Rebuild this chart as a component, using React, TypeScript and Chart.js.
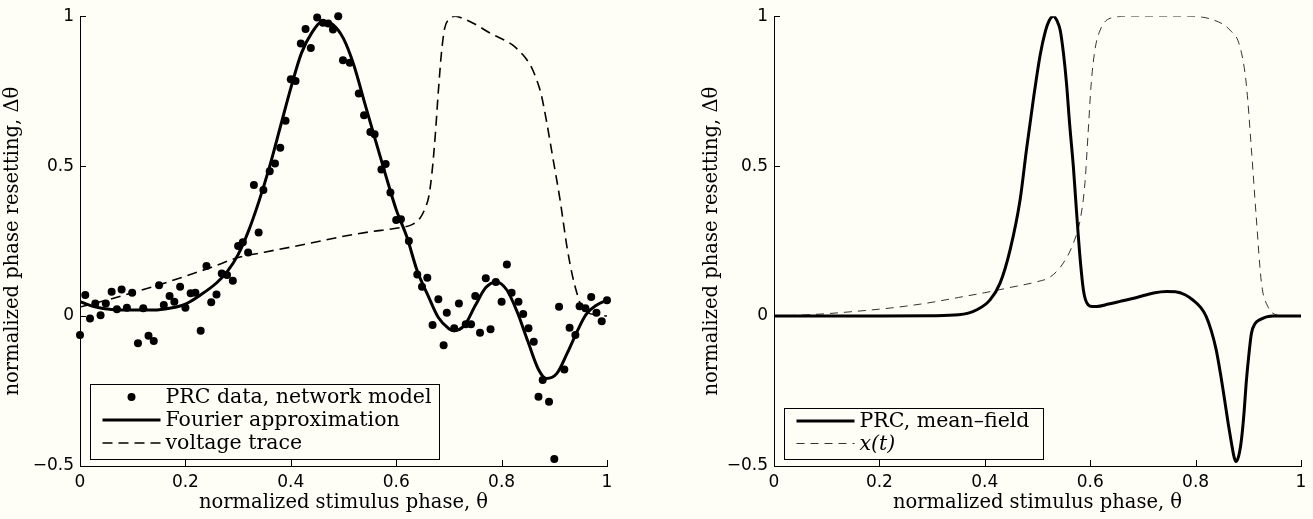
import React, { useEffect, useRef } from "react";
import { Chart, registerables } from "chart.js";

Chart.register(...registerables);

const BG = "rgb(254,254,247)";

// ---------- Left panel: network model ----------
const prcTheta = [
  0.0, 0.01, 0.019, 0.029, 0.039, 0.049, 0.06, 0.07, 0.079, 0.089, 0.099, 0.11, 0.12, 0.13, 0.14, 0.15,
  0.159, 0.17, 0.179, 0.19, 0.2, 0.21, 0.219, 0.229, 0.24, 0.249, 0.259, 0.269, 0.279, 0.29, 0.3, 0.309,
  0.319, 0.33, 0.339, 0.348, 0.36, 0.37, 0.38, 0.39, 0.4, 0.409, 0.419, 0.428, 0.438, 0.45, 0.461, 0.471,
  0.48, 0.49, 0.499, 0.512, 0.529, 0.539, 0.551, 0.559, 0.572, 0.58, 0.589, 0.6, 0.609, 0.624, 0.64, 0.649,
  0.659, 0.669, 0.68, 0.69, 0.696, 0.71, 0.719, 0.732, 0.742, 0.75, 0.759, 0.77, 0.779, 0.789, 0.8, 0.81,
  0.819, 0.832, 0.841, 0.851, 0.861, 0.87, 0.878, 0.89, 0.9, 0.909, 0.919, 0.929, 0.94, 0.948, 0.959, 0.97,
  0.98, 0.99, 1.0,
];
const prcValues = [
  -0.063, 0.07, -0.008, 0.042, 0.003, 0.042, 0.081, 0.023, 0.089, 0.028, 0.078, -0.091, 0.026, -0.066, -0.083, 0.103,
  0.037, 0.067, 0.048, 0.098, 0.028, 0.076, 0.078, -0.049, 0.167, 0.046, 0.072, 0.142, 0.137, 0.118, 0.234, 0.246,
  0.212, 0.437, 0.279, 0.42, 0.483, 0.509, 0.561, 0.651, 0.79, 0.784, 0.909, 0.957, 0.894, 0.996, 0.978, 0.976,
  0.956, 1.0, 0.853, 0.845, 0.742, 0.67, 0.614, 0.606, 0.489, 0.507, 0.412, 0.32, 0.323, 0.25, 0.139, 0.098,
  0.128, -0.03, 0.056, -0.097, 0.011, -0.041, 0.042, -0.027, -0.027, 0.067, -0.056, 0.126, -0.044, 0.114, 0.048, 0.172,
  0.078, 0.048, 0.007, -0.041, -0.086, -0.269, -0.213, -0.286, -0.477, 0.031, -0.178, -0.039, -0.063, 0.033, 0.026, 0.064,
  0.011, -0.017, 0.053,
];

const fourierTheta = [
  0.0, 0.03, 0.06, 0.1, 0.14, 0.17, 0.2, 0.23, 0.26, 0.28, 0.3, 0.32, 0.34, 0.36, 0.38, 0.4, 0.42, 0.44,
  0.46, 0.48, 0.5, 0.52, 0.54, 0.56, 0.58, 0.6, 0.62, 0.64, 0.66, 0.68, 0.7, 0.71, 0.73, 0.75, 0.77, 0.79,
  0.81, 0.83, 0.85, 0.87, 0.885, 0.905, 0.925, 0.945, 0.96, 0.98, 1.0,
];
const fourierValues = [
  0.048, 0.03, 0.022, 0.02, 0.02, 0.026, 0.04, 0.072, 0.112, 0.15, 0.205, 0.285, 0.385, 0.5, 0.63, 0.76, 0.876, 0.945,
  0.982, 0.972, 0.925, 0.835, 0.712, 0.59, 0.47, 0.355, 0.265, 0.15, 0.07, -0.005, -0.042, -0.049, -0.03, 0.035, 0.095, 0.114,
  0.087, 0.012, -0.085, -0.178, -0.208, -0.191, -0.122, -0.045, 0.005, 0.036, 0.053,
];

const voltageTheta = [
  0.0, 0.05, 0.1, 0.15, 0.2, 0.25, 0.3, 0.35, 0.4, 0.45, 0.5, 0.55, 0.6, 0.63, 0.645, 0.655, 0.662, 0.668,
  0.674, 0.68, 0.686, 0.692, 0.7, 0.712, 0.73, 0.75, 0.78, 0.8, 0.82, 0.84, 0.855, 0.865, 0.875, 0.886, 0.898,
  0.911, 0.924, 0.935, 0.943, 0.95, 0.96, 0.98, 1.0,
];
const voltageValues = [
  0.03, 0.053, 0.078, 0.104, 0.133, 0.163, 0.195, 0.213, 0.23, 0.248, 0.266, 0.281, 0.293, 0.305, 0.326, 0.36, 0.4, 0.48,
  0.6, 0.75, 0.88, 0.96, 0.99, 1.0, 0.99, 0.973, 0.942, 0.925, 0.905, 0.872, 0.835, 0.795, 0.74, 0.642, 0.52,
  0.387, 0.231, 0.13, 0.076, 0.037, 0.015, 0.004, 0.0,
];

// ---------- Right panel: mean-field ----------
const meanFieldTheta = [
  0.0, 0.1, 0.2, 0.3, 0.35, 0.385, 0.41, 0.429, 0.448, 0.467, 0.479, 0.492, 0.505, 0.515, 0.522, 0.53, 0.537,
  0.543, 0.549, 0.555, 0.561, 0.568, 0.572, 0.577, 0.582, 0.587, 0.591, 0.596, 0.604, 0.612, 0.635, 0.657, 0.69,
  0.72, 0.745, 0.762, 0.78, 0.796, 0.81, 0.82, 0.83, 0.839, 0.847, 0.855, 0.862, 0.868, 0.873, 0.877, 0.882, 0.887,
  0.892, 0.896, 0.901, 0.906, 0.913, 0.922, 0.947, 1.0,
];
const meanFieldValues = [
  0.0, 0.0, 0.0, 0.001, 0.004, 0.021, 0.054, 0.11, 0.221, 0.388, 0.554, 0.721, 0.87, 0.95, 0.985, 1.0, 0.985,
  0.954, 0.88, 0.777, 0.64, 0.499, 0.4, 0.277, 0.17, 0.088, 0.055, 0.038, 0.032, 0.032, 0.04, 0.049, 0.063,
  0.077, 0.082, 0.081, 0.071, 0.052, 0.028, -0.001, -0.05, -0.112, -0.19, -0.279, -0.36, -0.423, -0.47, -0.485, -0.465, -0.412,
  -0.32, -0.223, -0.13, -0.057, -0.025, -0.012, 0.0, 0.0,
];

const xtTheta = [
  0.0, 0.05, 0.1, 0.15, 0.2, 0.25, 0.3, 0.35, 0.4, 0.45, 0.5, 0.524, 0.549, 0.568, 0.581, 0.59, 0.596, 0.602,
  0.609, 0.619, 0.638, 0.676, 0.783, 0.833, 0.865, 0.884, 0.896, 0.906, 0.915, 0.925, 0.937, 0.953, 0.97, 1.0,
];
const xtValues = [
  0.0, 0.003, 0.008, 0.015, 0.023, 0.033, 0.046, 0.062, 0.078, 0.096, 0.115, 0.13, 0.177, 0.243, 0.321, 0.443, 0.61, 0.777,
  0.888, 0.954, 0.993, 1.0, 1.0, 0.988, 0.954, 0.899, 0.777, 0.554, 0.332, 0.11, 0.032, 0.004, 0.0, 0.0,
];

// ---------- Axis text ----------
const xTickLabels = ["0", "0.2", "0.4", "0.6", "0.8", "1"];
const yTickLabels = ["\u22120.5", "0", "0.5", "1"];
const xAxisTitle = "normalized stimulus phase, \u03b8";
const yAxisTitle = "normalized phase resetting, \u0394\u03b8";

const SERIF = "'DejaVu Serif', serif";
const SANS = "'DejaVu Sans', sans-serif";

const toPoints = (xs: number[], ys: number[]) => xs.map((x, i) => ({ x, y: ys[i] }));

const inwardTicks = {
  id: "inwardTicks",
  afterDraw(chart: any) {
    const { ctx, chartArea, scales } = chart;
    const L = 6;
    ctx.save();
    ctx.strokeStyle = "#000";
    ctx.lineWidth = 1;
    scales.x.ticks.forEach((t: any) => {
      const px = Math.round(scales.x.getPixelForValue(t.value)) + 0.5;
      ctx.beginPath();
      ctx.moveTo(px, chartArea.bottom);
      ctx.lineTo(px, chartArea.bottom - L);
      ctx.stroke();
    });
    scales.y.ticks.forEach((t: any) => {
      const py = Math.round(scales.y.getPixelForValue(t.value)) + 0.5;
      ctx.beginPath();
      ctx.moveTo(chartArea.left, py);
      ctx.lineTo(chartArea.left + L, py);
      ctx.stroke();
    });
    ctx.restore();
  },
};

const boxLegend = {
  id: "boxLegend",
  afterDraw(chart: any, _args: any, opts: any) {
    if (!opts || !opts.show) return;
    const { ctx, chartArea } = chart;
    const items = chart.data.datasets;
    const n = items.length;
    const fontFor = (ds: any) => `${ds.legendItalic ? "italic " : ""}${opts.fontSize}px ${SERIF}`;
    ctx.save();
    let maxW = 0;
    items.forEach((ds: any) => {
      ctx.font = fontFor(ds);
      maxW = Math.max(maxW, ctx.measureText(ds.label).width);
    });
    const h = Math.round(opts.topPad + opts.rowHeight * (n - 1) + opts.bottomPad);
    const w = Math.round(opts.textOffset + maxW + opts.rightPad);
    const left = Math.round(chartArea.left + opts.offsetX) + 0.5;
    const bottom = Math.round(chartArea.bottom - opts.offsetY) + 0.5;
    const top = bottom - h;
    ctx.fillStyle = BG;
    ctx.fillRect(left, top, w, h);
    ctx.strokeStyle = "#000";
    ctx.lineWidth = 1;
    ctx.setLineDash([]);
    ctx.strokeRect(left, top, w, h);
    items.forEach((ds: any, i: number) => {
      const y = top + opts.topPad + i * opts.rowHeight;
      if (ds.showLine === false) {
        ctx.fillStyle = "#000";
        ctx.beginPath();
        ctx.arc(left + (opts.sampleStart + opts.sampleEnd) / 2, y, ds.pointRadius, 0, Math.PI * 2);
        ctx.fill();
      } else {
        ctx.strokeStyle = ds.borderColor;
        ctx.lineWidth = ds.borderWidth;
        ctx.setLineDash(ds.borderDash || []);
        ctx.beginPath();
        ctx.moveTo(left + opts.sampleStart, y);
        ctx.lineTo(left + opts.sampleEnd, y);
        ctx.stroke();
        ctx.setLineDash([]);
      }
      ctx.fillStyle = "#000";
      ctx.font = fontFor(ds);
      ctx.textAlign = "left";
      ctx.textBaseline = "middle";
      ctx.fillText(ds.label, left + opts.textOffset, y + 1);
    });
    ctx.restore();
  },
};

function makeConfig(datasets: any[], yAxisWidth: number, yTitlePad: number, rightPad: number, legendOpts: any) {
  return {
    type: "scatter",
    data: { datasets },
    plugins: [inwardTicks, boxLegend],
    options: {
      animation: false,
      responsive: false,
      events: [],
      layout: { padding: { left: 0, right: rightPad, top: 16, bottom: 0 } },
      plugins: {
        legend: { display: false },
        tooltip: { enabled: false },
        boxLegend: legendOpts,
      },
      scales: {
        x: {
          type: "linear",
          min: 0,
          max: 1,
          grid: { display: false, drawTicks: false, tickLength: 0 },
          border: { display: true, color: "#000", width: 1 },
          ticks: {
            stepSize: 0.2,
            autoSkip: false,
            maxRotation: 0,
            padding: 6,
            color: "#000",
            font: { family: SANS, size: 17 },
            callback: (_v: any, i: number) => xTickLabels[i],
          },
          title: {
            display: true,
            text: xAxisTitle,
            color: "#000",
            font: { family: SERIF, size: 19.5 },
            padding: { top: 0, bottom: 4 },
          },
          afterFit: (s: any) => {
            s.height = 53;
          },
        },
        y: {
          type: "linear",
          min: -0.5,
          max: 1,
          grid: { display: false, drawTicks: false, tickLength: 0 },
          border: { display: true, color: "#000", width: 1 },
          ticks: {
            stepSize: 0.5,
            autoSkip: false,
            padding: 6,
            color: "#000",
            font: { family: SANS, size: 17 },
            callback: (_v: any, i: number) => yTickLabels[i],
          },
          title: {
            display: true,
            text: yAxisTitle,
            color: "#000",
            font: { family: SERIF, size: 19.5 },
            padding: { top: yTitlePad, bottom: 0 },
          },
          afterFit: (s: any) => {
            s.width = yAxisWidth;
          },
        },
      },
    },
  };
}

const legendBase = {
  show: true,
  fontSize: 20.5,
  offsetX: 10,
  offsetY: 7,
  topPad: 12.5,
  bottomPad: 16,
  sampleStart: 12,
  sampleEnd: 70,
  textOffset: 75,
};

function buildLeft() {
  const datasets = [
    {
      label: "PRC data, network model",
      data: toPoints(prcTheta, prcValues),
      showLine: false,
      pointRadius: 4,
      pointBackgroundColor: "#000",
      pointBorderColor: "#000",
      pointBorderWidth: 0,
      clip: false,
    },
    {
      label: "Fourier approximation",
      data: toPoints(fourierTheta, fourierValues),
      showLine: true,
      borderColor: "#000",
      borderWidth: 3,
      pointRadius: 0,
      cubicInterpolationMode: "monotone",
    },
    {
      label: "voltage trace",
      data: toPoints(voltageTheta, voltageValues),
      showLine: true,
      borderColor: "#000",
      borderWidth: 1.6,
      borderDash: [10, 6],
      pointRadius: 0,
      cubicInterpolationMode: "monotone",
    },
  ];
  return makeConfig(datasets, 80, 1, 43, { ...legendBase, rowHeight: 23, rightPad: 8 });
}

function buildRight() {
  const datasets = [
    {
      label: "PRC, mean\u2013field",
      data: toPoints(meanFieldTheta, meanFieldValues),
      showLine: true,
      borderColor: "#000",
      borderWidth: 3,
      pointRadius: 0,
      cubicInterpolationMode: "monotone",
    },
    {
      label: "x(t)",
      legendItalic: true,
      data: toPoints(xtTheta, xtValues),
      showLine: true,
      borderColor: "#333",
      borderWidth: 1,
      borderDash: [8, 6],
      pointRadius: 0,
      cubicInterpolationMode: "monotone",
    },
  ];
  return makeConfig(datasets, 114, 40, 12, { ...legendBase, rowHeight: 22.5, rightPad: 14 });
}

function Panel({ left, width, build }: { left: number; width: number; build: () => any }) {
  const ref = useRef<HTMLCanvasElement | null>(null);
  useEffect(() => {
    const chart = new Chart(ref.current as HTMLCanvasElement, build() as any);
    return () => chart.destroy();
  }, [build]);
  return (
    <canvas
      ref={ref}
      width={width}
      height={519}
      style={{ position: "absolute", left, top: 0, width, height: 519, display: "block" }}
    />
  );
}

export default function App() {
  return (
    <div
      style={{
        position: "fixed",
        left: 0,
        top: 0,
        width: 1313,
        height: 519,
        background: BG,
        overflow: "hidden",
      }}
    >
      <Panel left={0} width={650} build={buildLeft} />
      <Panel left={660} width={653} build={buildRight} />
    </div>
  );
}
